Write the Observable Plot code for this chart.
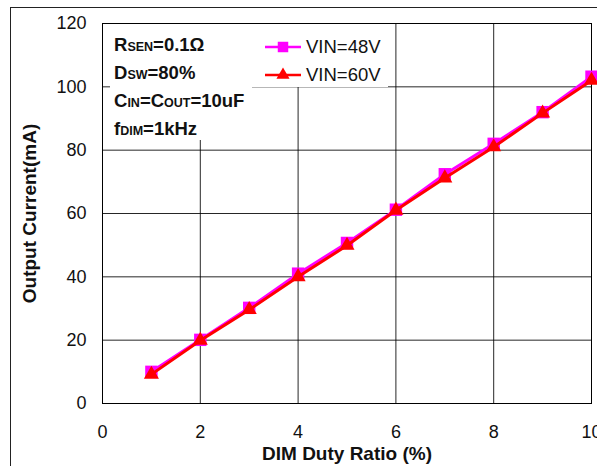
<!DOCTYPE html>
<html>
<head>
<meta charset="utf-8">
<script src="https://cdn.jsdelivr.net/npm/d3@7"></script>
<script src="https://cdn.jsdelivr.net/npm/@observablehq/plot@0.6"></script>
<style>
  html, body { margin: 0; padding: 0; background: #fff; overflow: hidden; }
  #wrap { position: relative; width: 597px; height: 466px; font-family: "Liberation Sans", Arial, sans-serif; }
  #outer { position: absolute; left: 10px; top: 7px; width: 700px; height: 600px;
           border-left: 1.5px solid #222; border-top: 1.5px solid #222; pointer-events: none; }
  #note { position: absolute; left: 110px; top: 24px; width: 142px; height: 116px; background: #fff;
          box-sizing: border-box; padding: 8px 0 0 4px; font-weight: bold; font-size: 18.5px; line-height: 25px; color: #111; }
  #note .s { font-size: 12.5px; }
  #legend { position: absolute; left: 252px; top: 24px; width: 136px; height: 63px; background: #fff;
            box-sizing: border-box; padding-top: 8.5px; font-size: 18.5px; color: #111; }
  #legend .row { display: flex; align-items: center; height: 28.4px; line-height: 28.4px; }
  #legend svg { margin-left: 13px; margin-right: 5px; }
</style>
</head>
<body>
<div id="wrap">
  <div id="chart"></div>
  <div id="note"></div>
  <div id="legend"></div>
  <div id="outer"></div>
</div>
<script>
// ---- data ----
const dutyRatio = [1, 2, 3, 4, 5, 6, 7, 8, 9, 10];
const vin48 = [10, 20.1, 30.2, 41, 50.7, 61.2, 72.4, 82, 92, 103.2];
const vin60 = [9.2, 19.9, 29.6, 40, 49.9, 61, 71.2, 81, 91.7, 102];
const seriesNames = ["VIN=48V", "VIN=60V"];
const seriesColors = ["#FF00FF", "#FF0000"];
const xTicks = [0, 2, 4, 6, 8, 10];
const yTicks = [0, 20, 40, 60, 80, 100, 120];
const xLabel = "DIM Duty Ratio (%)";
const yLabel = "Output Current(mA)";
const noteLines = [["R", "SEN", "=0.1Ω"], ["D", "SW", "=80%"], ["C", "IN", "=C", "OUT", "=10uF"], ["f", "DIM", "=1kHz"]];

const d48 = dutyRatio.map((x, i) => ({x, y: vin48[i]}));
const d60 = dutyRatio.map((x, i) => ({x, y: vin60[i]}));

const font = "Liberation Sans, Arial, sans-serif";
const chart = Plot.plot({
  width: 597, height: 466,
  marginLeft: 102, marginRight: 6, marginTop: 23, marginBottom: 63,
  style: {fontFamily: font, color: "#111", background: "transparent"},
  x: {domain: [0, 10]},
  y: {domain: [0, 120]},
  marks: [
    Plot.gridX({ticks: xTicks.slice(1, -1), stroke: "#000", strokeOpacity: 0.85, strokeWidth: 1}),
    Plot.gridY({ticks: yTicks.slice(1, -1), stroke: "#000", strokeOpacity: 0.85, strokeWidth: 1}),
    Plot.frame({stroke: "#000", strokeWidth: 1}),
    Plot.line(d48, {x: "x", y: "y", stroke: seriesColors[0], strokeWidth: 3}),
    Plot.dot(d48, {x: "x", y: "y", symbol: "square", fill: seriesColors[0], r: 7}),
    Plot.line(d60, {x: "x", y: "y", stroke: seriesColors[1], strokeWidth: 3}),
    Plot.dot(d60, {x: "x", y: "y", symbol: "triangle", fill: seriesColors[1], r: 5.6}),
    Plot.axisX({ticks: xTicks, tickSize: 0, tickPadding: 22, fontSize: 18, label: null}),
    Plot.axisY({ticks: yTicks, tickSize: 0, tickPadding: 16, fontSize: 18, label: null}),
    Plot.axisX({ticks: [], label: xLabel, labelAnchor: "center", labelArrow: "none", labelOffset: 56, fontSize: 19, fontWeight: "bold"}),
    Plot.axisY({ticks: [], label: yLabel, labelAnchor: "center", labelArrow: "none", labelOffset: 80, fontSize: 19, fontWeight: "bold"})
  ]
});
document.getElementById("chart").appendChild(chart);

// annotation text
const note = document.getElementById("note");
noteLines.forEach(parts => {
  const div = document.createElement("div");
  parts.forEach((p, i) => {
    const span = document.createElement("span");
    span.textContent = p;
    if (i % 2 === 1) span.className = "s";
    div.appendChild(span);
  });
  note.appendChild(div);
});

// legend
const legend = document.getElementById("legend");
const symbols = ["square", "triangle"];
seriesNames.forEach((name, i) => {
  const row = document.createElement("div");
  row.className = "row";
  const s = d3.create("svg").attr("width", 36).attr("height", 20);
  s.append("line").attr("x1", 0).attr("x2", 36).attr("y1", 10).attr("y2", 10)
    .attr("stroke", seriesColors[i]).attr("stroke-width", 2.5);
  const sym = symbols[i] === "square" ? d3.symbolSquare : d3.symbolTriangle;
  s.append("path").attr("d", d3.symbol(sym, symbols[i] === "square" ? 110 : 75)())
    .attr("transform", "translate(18,10)").attr("fill", seriesColors[i]);
  row.appendChild(s.node());
  const t = document.createElement("span");
  t.textContent = name;
  row.appendChild(t);
  legend.appendChild(row);
});
</script>
</body>
</html>
